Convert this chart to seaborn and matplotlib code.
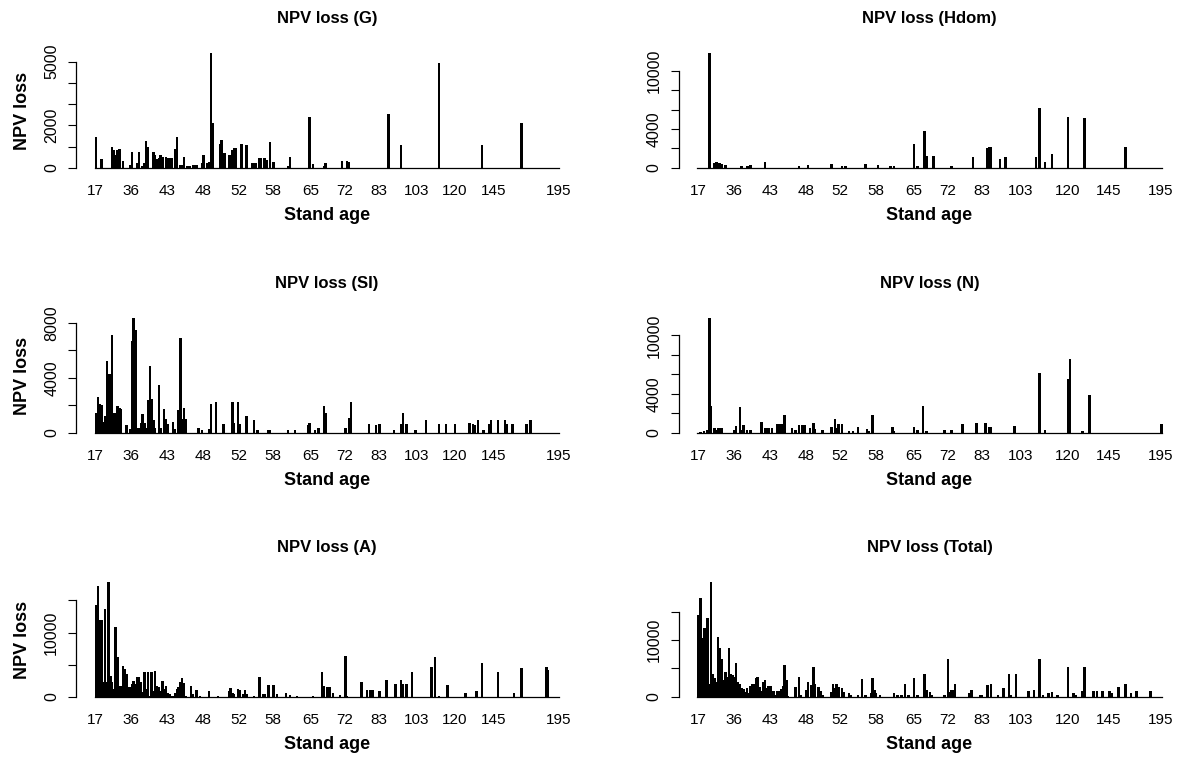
import matplotlib
matplotlib.use('Agg')
import matplotlib.pyplot as plt
import seaborn as sns
import pandas as pd

# stands sorted by age, one bar per stand
n_stands = 259
age_labels = ['17', '36', '43', '48', '52', '58', '65', '72', '83', '103', '120', '145', '195']
age_ticks_left = [0, 20, 40, 60, 80, 99, 120, 139, 158, 179, 200, 222, 258]
age_ticks_right = [0, 20, 40, 60, 79, 99, 120, 139, 158, 180, 206, 229, 258]

# NPV loss per stand (stand index -> loss), stands not listed have no loss
npv_g = {0: 1430, 3: 390, 9: 990, 10: 830, 11: 600, 12: 830, 13: 860, 15: 310, 19: 130, 20: 750,
         23: 200, 24: 750, 26: 80, 27: 200, 28: 1240, 29: 990, 32: 750, 33: 600, 34: 390, 35: 440,
         36: 600, 37: 520, 39: 520, 40: 470, 41: 470, 42: 470, 44: 860, 45: 1430, 47: 130, 48: 130,
         49: 520, 51: 80, 52: 80, 54: 130, 55: 130, 56: 130, 59: 200, 60: 580, 62: 240, 63: 280,
         64: 5396, 65: 2090, 69: 1120, 70: 1300, 71: 710, 72: 710, 74: 610, 75: 610, 76: 830, 77: 910,
         78: 940, 81: 1100, 84: 1050, 87: 200, 88: 200, 89: 200, 91: 440, 92: 440, 94: 440, 95: 360,
         97: 1230, 99: 270, 107: 80, 108: 520, 119: 2400, 121: 160, 127: 80, 128: 200, 137: 330,
         140: 330, 141: 270, 163: 2520, 170: 1050, 191: 4950, 215: 1050, 237: 2090}

npv_hdom = {6: 11835, 9: 520, 10: 590, 11: 520, 12: 450, 13: 380, 15: 280, 24: 170, 27: 170, 28: 200,
            29: 280, 37: 550, 56: 170, 61: 240, 74: 380, 80: 170, 82: 170, 93: 380, 100: 240, 107: 170,
            109: 170, 120: 2450, 122: 170, 126: 3800, 127: 1210, 131: 1240, 141: 170, 153: 1140,
            161: 2070, 162: 2100, 163: 2170, 168: 860, 171: 1140, 188: 1140, 190: 6180, 193: 590,
            197: 1380, 206: 5280, 215: 5140, 238: 2170}

npv_si = {0: 1460, 1: 2600, 2: 2110, 3: 2000, 4: 780, 5: 1200, 6: 5200, 7: 4300, 8: 4300, 9: 7100,
          10: 1460, 11: 1460, 12: 1940, 13: 1800, 14: 1750, 17: 530, 19: 290, 20: 6650, 21: 8340,
          22: 7460, 23: 340, 24: 340, 25: 730, 26: 1390, 27: 730, 28: 340, 29: 2360, 30: 4860,
          31: 2480, 32: 900, 33: 340, 35: 3450, 36: 340, 38: 1750, 39: 1000, 40: 600, 43: 780, 44: 290,
          46: 1630, 47: 6900, 48: 1020, 49: 1820, 50: 1000, 57: 340, 59: 170, 63: 290, 64: 2110,
          67: 2240, 71: 610, 76: 2240, 77: 700, 79: 2240, 80: 610, 84: 1190, 88: 900, 90: 220, 96: 220,
          97: 220, 107: 170, 111: 220, 118: 530, 119: 700, 122: 170, 124: 340, 127: 1920, 128: 1430,
          139: 340, 141: 1090, 142: 2240, 152: 610, 156: 530, 158: 610, 166: 220, 170: 610, 171: 1430,
          173: 610, 178: 170, 184: 900, 191: 610, 195: 610, 200: 610, 208: 700, 210: 610, 211: 530,
          213: 900, 216: 220, 219: 610, 220: 900, 224: 900, 228: 900, 229: 660, 232: 610, 240: 610,
          242: 900}

npv_n = {1: 100, 3: 170, 5: 300, 6: 11750, 7: 2700, 9: 510, 10: 300, 11: 510, 12: 510, 13: 510,
         20: 300, 21: 650, 23: 2630, 24: 300, 25: 750, 27: 300, 29: 300, 35: 1090, 37: 510, 38: 510,
         39: 510, 41: 510, 44: 850, 45: 850, 46: 850, 47: 850, 48: 1780, 52: 480, 54: 300, 56: 750,
         58: 750, 59: 750, 62: 480, 64: 990, 65: 410, 69: 300, 74: 580, 76: 1440, 77: 480, 78: 850,
         80: 850, 84: 170, 86: 170, 89: 580, 94: 410, 95: 170, 97: 1780, 108: 580, 109: 170, 120: 580,
         122: 240, 125: 2700, 127: 170, 137: 300, 141: 300, 147: 850, 155: 990, 160: 990, 162: 580,
         163: 580, 176: 720, 190: 6160, 193: 300, 206: 5510, 207: 7590, 214: 170, 218: 3900, 258: 850}

npv_a = {0: 14270, 1: 17280, 2: 12000, 3: 11940, 4: 2230, 5: 13650, 6: 2230, 7: 17800, 8: 3270,
         9: 2230, 10: 1190, 11: 10800, 12: 6120, 13: 1710, 14: 1710, 15: 4830, 16: 4310, 17: 3530,
         18: 1450, 19: 1450, 20: 1970, 21: 2490, 22: 1970, 23: 3010, 24: 3010, 25: 2230, 26: 800,
         27: 3790, 28: 1200, 29: 3890, 30: 160, 31: 3890, 32: 930, 33: 4050, 34: 1710, 35: 1450,
         36: 930, 37: 2490, 38: 1190, 39: 1710, 40: 670, 41: 415, 42: 150, 43: 200, 44: 670, 45: 1190,
         46: 1450, 47: 2230, 48: 2910, 49: 2080, 50: 100, 53: 1710, 54: 415, 56: 1040, 58: 160,
         63: 930, 68: 160, 74: 930, 75: 1350, 76: 670, 77: 415, 79: 1190, 80: 1090, 82: 415, 83: 1040,
         84: 415, 88: 160, 91: 3010, 93: 415, 94: 415, 96: 1820, 99: 1820, 101: 415, 106: 520,
         108: 310, 112: 160, 121: 160, 126: 3790, 127: 1710, 129: 1560, 130: 1450, 132: 520, 136: 310,
         139: 6380, 140: 160, 148: 2230, 151: 1040, 153: 1040, 154: 1040, 158: 830, 162: 2600,
         167: 1970, 170: 2600, 171: 1970, 173: 1970, 176: 3790, 187: 4570, 189: 6230, 191: 160,
         196: 1820, 206: 520, 212: 830, 215: 5190, 224: 3790, 233: 520, 237: 4410, 251: 4570,
         252: 4150}

npv_total = {0: 14520, 1: 17460, 2: 10290, 3: 12170, 4: 12170, 5: 13820, 6: 2350, 7: 20190, 8: 3940,
             9: 3400, 10: 2600, 11: 10580, 12: 8640, 13: 6760, 14: 2900, 15: 4410, 16: 3500, 17: 8530,
             18: 4100, 19: 3900, 20: 3500, 21: 5880, 22: 2600, 23: 2350, 24: 1600, 25: 1300, 26: 880,
             27: 1500, 28: 590, 29: 1900, 30: 2350, 31: 2350, 32: 3300, 33: 3530, 34: 1700, 35: 1000,
             36: 2600, 37: 2940, 38: 1600, 39: 1900, 40: 1900, 41: 1100, 42: 1000, 43: 300, 44: 1000,
             45: 1000, 46: 1300, 47: 1900, 48: 5700, 49: 3000, 50: 200, 54: 1760, 56: 3530, 57: 300,
             60: 1180, 61: 2650, 63: 2060, 64: 5290, 65: 2350, 67: 1760, 68: 1060, 69: 300, 74: 880,
             75: 2350, 76: 1470, 77: 2350, 78: 1760, 80: 1470, 81: 880, 84: 590, 85: 300, 89: 300,
             91: 3060, 93: 300, 96: 590, 97: 3350, 98: 1180, 99: 590, 101: 300, 109: 590, 111: 400,
             113: 300, 115: 2180, 117: 300, 120: 3350, 122: 300, 126: 4000, 127: 1290, 129: 880,
             130: 300, 137: 300, 139: 6590, 140: 880, 141: 1290, 142: 1290, 143: 2350, 151: 590,
             152: 1290, 157: 400, 158: 400, 161: 2060, 163: 2350, 167: 400, 170: 1470, 173: 4000,
             174: 300, 177: 4000, 184: 1060, 187: 1290, 190: 6760, 192: 400, 195: 700, 197: 880,
             200: 400, 206: 5290, 209: 700, 210: 400, 214: 1060, 215: 5290, 220: 1060, 222: 1060,
             225: 1060, 229: 1060, 230: 590, 234: 1760, 238: 2180, 241: 590, 244: 1060, 252: 1060}

yt_g = [0, 1000, 2000, 3000, 4000, 5000]
yl_g = ['0', '', '2000', '', '', '5000']
yt_10k = [0, 2000, 4000, 6000, 8000, 10000]
yl_10k = ['0', '', '4000', '', '', '10000']
yt_si = [0, 2000, 4000, 6000, 8000]
yl_si = ['0', '', '4000', '', '8000']
yt_15k = [0, 5000, 10000, 15000]
yl_15k = ['0', '', '10000', '']

sns.set_theme(style='white')
plt.rcParams['font.family'] = ['Liberation Sans', 'DejaVu Sans']
plt.rcParams['text.color'] = 'black'
plt.rcParams['axes.labelcolor'] = 'black'
plt.rcParams['xtick.color'] = 'black'
plt.rcParams['ytick.color'] = 'black'

W, H = 1179, 761
fig = plt.figure(figsize=(W / 100, H / 100), dpi=100)

panels = [
    ('NPV loss (G)', npv_g, yt_g, yl_g, 0, 0),
    ('NPV loss (Hdom)', npv_hdom, yt_10k, yl_10k, 0, 1),
    ('NPV loss (SI)', npv_si, yt_si, yl_si, 1, 0),
    ('NPV loss (N)', npv_n, yt_10k, yl_10k, 1, 1),
    ('NPV loss (A)', npv_a, yt_15k, yl_15k, 2, 0),
    ('NPV loss (Total)', npv_total, yt_15k, yl_15k, 2, 1),
]
col_left = [76, 678.5]
row_top = [48.7, 313.7, 577.8]
pw, ph = 502, 123.6

for title, loss, yt, yl, r, c in panels:
    ax = fig.add_axes([col_left[c] / W, 1 - (row_top[r] + ph) / H, pw / W, ph / H])
    df = pd.DataFrame({'stand': range(n_stands),
                       'loss': [loss.get(i, 0) for i in range(n_stands)]})
    sns.barplot(data=df, x='stand', y='loss', color='black', saturation=1, width=0.83,
                errorbar=None, linewidth=0.4, edgecolor='black', ax=ax)
    # crisp bars like the base-graphics output; empty stands get no outline
    for p in ax.patches:
        p.set_antialiased(False)
        if p.get_height() == 0:
            p.set_visible(False)
    ymax = df['loss'].max()
    ax.set_xlim(-0.5 - 0.04 * n_stands, n_stands - 0.5 + 0.04 * n_stands)
    ax.set_ylim(-0.04 * ymax, 1.04 * ymax)

    ticks = age_ticks_left if c == 0 else age_ticks_right
    ax.set_xticks(ticks)
    ax.set_xticklabels(age_labels, fontsize=11.5)
    ax.tick_params(axis='x', length=0, pad=11.5)
    ax.set_yticks(yt)
    ax.set_yticklabels(yl, rotation=90, va='center', fontsize=11.5)
    ax.tick_params(axis='y', length=5.8, width=0.8, pad=6.3, left=True, color='black')

    for s in ['top', 'right']:
        ax.spines[s].set_visible(False)
    ax.spines['bottom'].set_position(('data', 0))
    ax.spines['bottom'].set_bounds(-0.5, n_stands - 0.5)
    ax.spines['left'].set_bounds(0, yt[-1])
    for s in ['bottom', 'left']:
        ax.spines[s].set_color('black')
        ax.spines[s].set_linewidth(0.9)

    ax.set_title(title, fontsize=12, fontweight='bold', pad=18.5)
    ax.set_xlabel('Stand age', fontsize=13, fontweight='bold', labelpad=6.5)
    if c == 0:
        ax.set_ylabel('NPV loss', fontsize=13, fontweight='bold', labelpad=9.5)
    else:
        ax.set_ylabel('')

fig.savefig('out.png', dpi=100, facecolor='white')
